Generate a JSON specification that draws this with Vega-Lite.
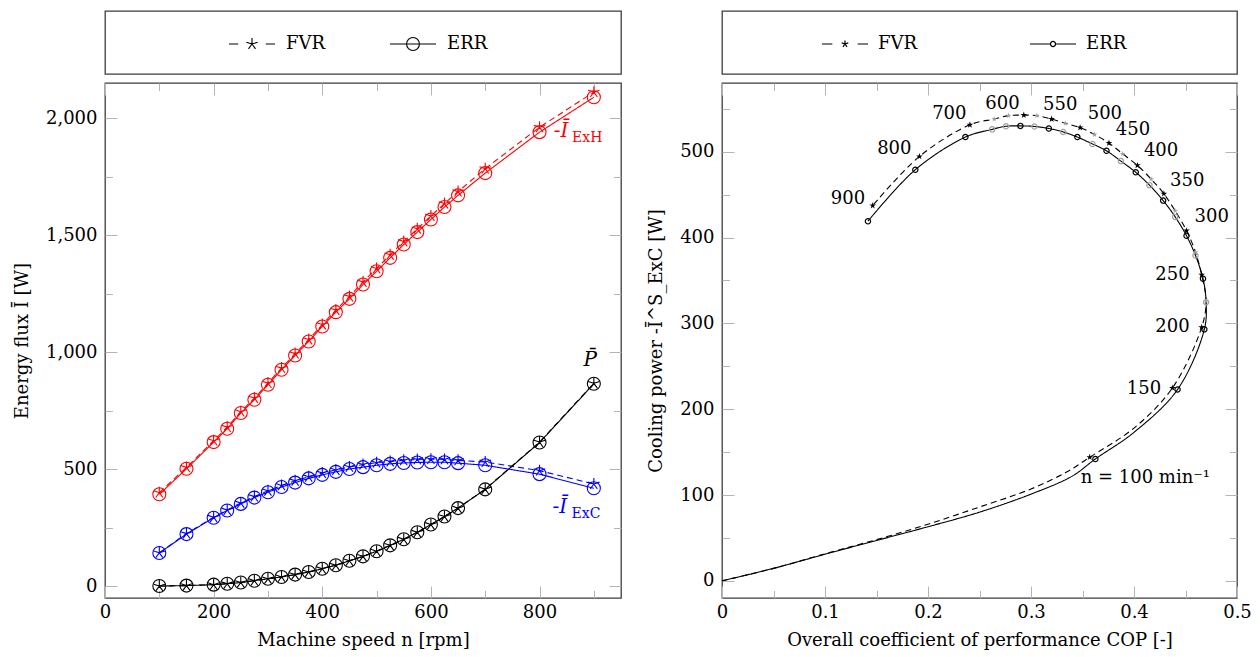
{
  "$schema": "https://vega.github.io/schema/vega-lite/v6.json",
  "background": "white",
  "padding": {"left": 12, "top": 10, "right": 5, "bottom": 5},
  "datasets": {
    "leg": [{"s": "FVR"}, {"s": "ERR"}],
    "left": [
      {"n":100,"q":"ExH","s":"ERR","v":393},{"n":150,"q":"ExH","s":"ERR","v":502},{"n":200,"q":"ExH","s":"ERR","v":616},{"n":225,"q":"ExH","s":"ERR","v":673},{"n":250,"q":"ExH","s":"ERR","v":740},{"n":275,"q":"ExH","s":"ERR","v":797},{"n":300,"q":"ExH","s":"ERR","v":861},{"n":325,"q":"ExH","s":"ERR","v":925},{"n":350,"q":"ExH","s":"ERR","v":986},{"n":375,"q":"ExH","s":"ERR","v":1046},{"n":400,"q":"ExH","s":"ERR","v":1110},{"n":425,"q":"ExH","s":"ERR","v":1171},{"n":450,"q":"ExH","s":"ERR","v":1228},{"n":475,"q":"ExH","s":"ERR","v":1289},{"n":500,"q":"ExH","s":"ERR","v":1346},{"n":525,"q":"ExH","s":"ERR","v":1403},{"n":550,"q":"ExH","s":"ERR","v":1460},{"n":575,"q":"ExH","s":"ERR","v":1513},{"n":600,"q":"ExH","s":"ERR","v":1567},{"n":625,"q":"ExH","s":"ERR","v":1620},{"n":650,"q":"ExH","s":"ERR","v":1670},{"n":700,"q":"ExH","s":"ERR","v":1765},{"n":800,"q":"ExH","s":"ERR","v":1940},{"n":900,"q":"ExH","s":"ERR","v":2089},
      {"n":100,"q":"ExH","s":"FVR","v":400},{"n":150,"q":"ExH","s":"FVR","v":508},{"n":200,"q":"ExH","s":"FVR","v":622},{"n":225,"q":"ExH","s":"FVR","v":680},{"n":250,"q":"ExH","s":"FVR","v":746},{"n":275,"q":"ExH","s":"FVR","v":804},{"n":300,"q":"ExH","s":"FVR","v":868},{"n":325,"q":"ExH","s":"FVR","v":932},{"n":350,"q":"ExH","s":"FVR","v":994},{"n":375,"q":"ExH","s":"FVR","v":1054},{"n":400,"q":"ExH","s":"FVR","v":1118},{"n":425,"q":"ExH","s":"FVR","v":1180},{"n":450,"q":"ExH","s":"FVR","v":1238},{"n":475,"q":"ExH","s":"FVR","v":1300},{"n":500,"q":"ExH","s":"FVR","v":1358},{"n":525,"q":"ExH","s":"FVR","v":1416},{"n":550,"q":"ExH","s":"FVR","v":1473},{"n":575,"q":"ExH","s":"FVR","v":1527},{"n":600,"q":"ExH","s":"FVR","v":1582},{"n":625,"q":"ExH","s":"FVR","v":1635},{"n":650,"q":"ExH","s":"FVR","v":1686},{"n":700,"q":"ExH","s":"FVR","v":1784},{"n":800,"q":"ExH","s":"FVR","v":1961},{"n":900,"q":"ExH","s":"FVR","v":2111},
      {"n":100,"q":"ExC","s":"ERR","v":142},{"n":150,"q":"ExC","s":"ERR","v":223},{"n":200,"q":"ExC","s":"ERR","v":293},{"n":225,"q":"ExC","s":"ERR","v":324},{"n":250,"q":"ExC","s":"ERR","v":352},{"n":275,"q":"ExC","s":"ERR","v":379},{"n":300,"q":"ExC","s":"ERR","v":402},{"n":325,"q":"ExC","s":"ERR","v":424},{"n":350,"q":"ExC","s":"ERR","v":443},{"n":375,"q":"ExC","s":"ERR","v":461},{"n":400,"q":"ExC","s":"ERR","v":476},{"n":425,"q":"ExC","s":"ERR","v":489},{"n":450,"q":"ExC","s":"ERR","v":501},{"n":475,"q":"ExC","s":"ERR","v":509},{"n":500,"q":"ExC","s":"ERR","v":517},{"n":525,"q":"ExC","s":"ERR","v":523},{"n":550,"q":"ExC","s":"ERR","v":527},{"n":575,"q":"ExC","s":"ERR","v":529},{"n":600,"q":"ExC","s":"ERR","v":530},{"n":625,"q":"ExC","s":"ERR","v":530},{"n":650,"q":"ExC","s":"ERR","v":526},{"n":700,"q":"ExC","s":"ERR","v":517},{"n":800,"q":"ExC","s":"ERR","v":479},{"n":900,"q":"ExC","s":"ERR","v":419},
      {"n":100,"q":"ExC","s":"FVR","v":143},{"n":150,"q":"ExC","s":"FVR","v":225},{"n":200,"q":"ExC","s":"FVR","v":295},{"n":225,"q":"ExC","s":"FVR","v":326},{"n":250,"q":"ExC","s":"FVR","v":356},{"n":275,"q":"ExC","s":"FVR","v":383},{"n":300,"q":"ExC","s":"FVR","v":408},{"n":325,"q":"ExC","s":"FVR","v":431},{"n":350,"q":"ExC","s":"FVR","v":451},{"n":375,"q":"ExC","s":"FVR","v":468},{"n":400,"q":"ExC","s":"FVR","v":484},{"n":425,"q":"ExC","s":"FVR","v":497},{"n":450,"q":"ExC","s":"FVR","v":510},{"n":475,"q":"ExC","s":"FVR","v":520},{"n":500,"q":"ExC","s":"FVR","v":528},{"n":525,"q":"ExC","s":"FVR","v":533},{"n":550,"q":"ExC","s":"FVR","v":538},{"n":575,"q":"ExC","s":"FVR","v":542},{"n":600,"q":"ExC","s":"FVR","v":543},{"n":625,"q":"ExC","s":"FVR","v":542},{"n":650,"q":"ExC","s":"FVR","v":538},{"n":700,"q":"ExC","s":"FVR","v":531},{"n":800,"q":"ExC","s":"FVR","v":494},{"n":900,"q":"ExC","s":"FVR","v":437},
      {"n":100,"q":"P","s":"ERR","v":1},{"n":150,"q":"P","s":"ERR","v":3},{"n":200,"q":"P","s":"ERR","v":7},{"n":225,"q":"P","s":"ERR","v":11},{"n":250,"q":"P","s":"ERR","v":16},{"n":275,"q":"P","s":"ERR","v":24},{"n":300,"q":"P","s":"ERR","v":32},{"n":325,"q":"P","s":"ERR","v":40},{"n":350,"q":"P","s":"ERR","v":50},{"n":375,"q":"P","s":"ERR","v":61},{"n":400,"q":"P","s":"ERR","v":75},{"n":425,"q":"P","s":"ERR","v":90},{"n":450,"q":"P","s":"ERR","v":109},{"n":475,"q":"P","s":"ERR","v":128},{"n":500,"q":"P","s":"ERR","v":150},{"n":525,"q":"P","s":"ERR","v":175},{"n":550,"q":"P","s":"ERR","v":201},{"n":575,"q":"P","s":"ERR","v":231},{"n":600,"q":"P","s":"ERR","v":264},{"n":625,"q":"P","s":"ERR","v":298},{"n":650,"q":"P","s":"ERR","v":334},{"n":700,"q":"P","s":"ERR","v":414},{"n":800,"q":"P","s":"ERR","v":614},{"n":900,"q":"P","s":"ERR","v":865},
      {"n":100,"q":"P","s":"FVR","v":1},{"n":150,"q":"P","s":"FVR","v":3},{"n":200,"q":"P","s":"FVR","v":7},{"n":225,"q":"P","s":"FVR","v":11},{"n":250,"q":"P","s":"FVR","v":16},{"n":275,"q":"P","s":"FVR","v":24},{"n":300,"q":"P","s":"FVR","v":32},{"n":325,"q":"P","s":"FVR","v":40},{"n":350,"q":"P","s":"FVR","v":50},{"n":375,"q":"P","s":"FVR","v":61},{"n":400,"q":"P","s":"FVR","v":75},{"n":425,"q":"P","s":"FVR","v":90},{"n":450,"q":"P","s":"FVR","v":109},{"n":475,"q":"P","s":"FVR","v":128},{"n":500,"q":"P","s":"FVR","v":150},{"n":525,"q":"P","s":"FVR","v":175},{"n":550,"q":"P","s":"FVR","v":201},{"n":575,"q":"P","s":"FVR","v":231},{"n":600,"q":"P","s":"FVR","v":264},{"n":625,"q":"P","s":"FVR","v":298},{"n":650,"q":"P","s":"FVR","v":334},{"n":700,"q":"P","s":"FVR","v":415},{"n":800,"q":"P","s":"FVR","v":616},{"n":900,"q":"P","s":"FVR","v":867}
    ],
    "leftAnn": [
      {"n":826,"v":1943,"t":"-Ī","q":"ExH","k":"main"},
      {"n":860,"v":1913,"t":"ExH","q":"ExH","k":"sub"},
      {"n":824,"v":338,"t":"-Ī","q":"ExC","k":"main"},
      {"n":859,"v":307,"t":"ExC","q":"ExC","k":"sub"},
      {"n":881,"v":965,"t":"P̄","q":"P","k":"main"}
    ],
    "right": [
      {"s":"ERR","o":1,"cop":0,"q":0,"m":"n"},{"s":"ERR","o":2,"cop":0.05,"q":14.5,"m":"n"},{"s":"ERR","o":3,"cop":0.1,"q":31,"m":"n"},{"s":"ERR","o":4,"cop":0.15,"q":47,"m":"n"},{"s":"ERR","o":5,"cop":0.2,"q":63,"m":"n"},{"s":"ERR","o":6,"cop":0.25,"q":80,"m":"n"},{"s":"ERR","o":7,"cop":0.3,"q":101,"m":"n"},{"s":"ERR","o":8,"cop":0.34,"q":122,"m":"n"},
      {"s":"ERR","o":9,"cop":0.3625,"q":142,"m":"k"},{"s":"ERR","o":9.5,"cop":0.4,"q":173,"m":"n"},{"s":"ERR","o":10,"cop":0.4423,"q":223,"m":"k"},{"s":"ERR","o":11,"cop":0.4683,"q":293,"m":"k"},{"s":"ERR","o":12,"cop":0.47,"q":324.5,"m":"g"},{"s":"ERR","o":13,"cop":0.467,"q":352,"m":"k"},{"s":"ERR","o":14,"cop":0.4597,"q":379,"m":"g"},{"s":"ERR","o":15,"cop":0.451,"q":402,"m":"k"},{"s":"ERR","o":16,"cop":0.44,"q":424,"m":"g"},{"s":"ERR","o":17,"cop":0.4283,"q":443,"m":"k"},{"s":"ERR","o":18,"cop":0.415,"q":461,"m":"g"},{"s":"ERR","o":19,"cop":0.4017,"q":476,"m":"k"},{"s":"ERR","o":20,"cop":0.3873,"q":489,"m":"g"},{"s":"ERR","o":21,"cop":0.3733,"q":501,"m":"k"},{"s":"ERR","o":22,"cop":0.3597,"q":509,"m":"g"},{"s":"ERR","o":23,"cop":0.345,"q":517,"m":"k"},{"s":"ERR","o":24,"cop":0.3313,"q":523,"m":"g"},{"s":"ERR","o":25,"cop":0.3173,"q":527,"m":"k"},{"s":"ERR","o":26,"cop":0.3033,"q":529.4,"m":"g"},{"s":"ERR","o":27,"cop":0.2897,"q":530,"m":"k"},{"s":"ERR","o":28,"cop":0.2757,"q":529.6,"m":"g"},{"s":"ERR","o":29,"cop":0.2623,"q":526,"m":"g"},{"s":"ERR","o":30,"cop":0.2363,"q":517,"m":"k"},{"s":"ERR","o":31,"cop":0.1877,"q":479,"m":"k"},{"s":"ERR","o":32,"cop":0.1417,"q":419,"m":"k"},
      {"s":"FVR","o":1,"cop":0,"q":0,"m":"n"},{"s":"FVR","o":2,"cop":0.05,"q":14.5,"m":"n"},{"s":"FVR","o":3,"cop":0.1,"q":31.5,"m":"n"},{"s":"FVR","o":4,"cop":0.15,"q":48,"m":"n"},{"s":"FVR","o":5,"cop":0.2,"q":66,"m":"n"},{"s":"FVR","o":6,"cop":0.25,"q":86,"m":"n"},{"s":"FVR","o":7,"cop":0.3,"q":107,"m":"n"},{"s":"FVR","o":8,"cop":0.335,"q":127,"m":"n"},
      {"s":"FVR","o":9,"cop":0.357,"q":144,"m":"k"},{"s":"FVR","o":9.5,"cop":0.4,"q":178,"m":"n"},{"s":"FVR","o":10,"cop":0.4373,"q":224.7,"m":"k"},{"s":"FVR","o":11,"cop":0.4657,"q":295.3,"m":"k"},{"s":"FVR","o":12,"cop":0.47,"q":326,"m":"g"},{"s":"FVR","o":13,"cop":0.4657,"q":356.4,"m":"k"},{"s":"FVR","o":14,"cop":0.4597,"q":383,"m":"g"},{"s":"FVR","o":15,"cop":0.451,"q":408,"m":"k"},{"s":"FVR","o":16,"cop":0.44,"q":431,"m":"g"},{"s":"FVR","o":17,"cop":0.429,"q":451,"m":"k"},{"s":"FVR","o":18,"cop":0.4167,"q":468,"m":"g"},{"s":"FVR","o":19,"cop":0.4033,"q":484,"m":"k"},{"s":"FVR","o":20,"cop":0.389,"q":497.5,"m":"g"},{"s":"FVR","o":21,"cop":0.3757,"q":510,"m":"k"},{"s":"FVR","o":22,"cop":0.3617,"q":520,"m":"g"},{"s":"FVR","o":23,"cop":0.3477,"q":528,"m":"k"},{"s":"FVR","o":24,"cop":0.3333,"q":533,"m":"g"},{"s":"FVR","o":25,"cop":0.32,"q":538,"m":"k"},{"s":"FVR","o":26,"cop":0.3057,"q":542,"m":"g"},{"s":"FVR","o":27,"cop":0.293,"q":542.6,"m":"k"},{"s":"FVR","o":28,"cop":0.2783,"q":542,"m":"g"},{"s":"FVR","o":29,"cop":0.2643,"q":538,"m":"g"},{"s":"FVR","o":30,"cop":0.2407,"q":531.3,"m":"k"},{"s":"FVR","o":31,"cop":0.1917,"q":494.4,"m":"k"},{"s":"FVR","o":32,"cop":0.1463,"q":437.2,"m":"k"}
    ],
    "rightAnn": [
      {"cop":0.1223,"q":445,"t":"900"},{"cop":0.1673,"q":503,"t":"800"},{"cop":0.2207,"q":544,"t":"700"},{"cop":0.2723,"q":555,"t":"600"},{"cop":0.3283,"q":554,"t":"550"},{"cop":0.3717,"q":544,"t":"500"},{"cop":0.399,"q":525.5,"t":"450"},{"cop":0.4263,"q":500.6,"t":"400"},{"cop":0.4517,"q":466,"t":"350"},{"cop":0.4755,"q":423.6,"t":"300"},{"cop":0.4373,"q":356.4,"t":"250"},{"cop":0.4373,"q":295.3,"t":"200"},{"cop":0.4097,"q":223.6,"t":"150"},{"cop":0.411,"q":120,"t":"n = 100 min⁻¹"}
    ]
  },
  "spacing": 23,
  "resolve": {"scale": {"shape": "independent", "color": "independent", "strokeDash": "independent", "size": "independent", "x": "independent", "y": "independent"}, "legend": {"shape": "independent"}},
  "hconcat": [
    {
      "spacing": 6,
      "resolve": {"scale": {"shape": "independent", "color": "independent", "strokeDash": "independent", "size": "independent", "x": "independent", "y": "independent"}, "legend": {"shape": "independent"}},
      "vconcat": [
        {
          "width": 516, "height": 63,
          "data": {"name": "leg"},
          "mark": {"type": "point", "opacity": 0, "color": "black", "filled": false},
          "encoding": {
            "x": {"field": "s", "type": "nominal", "axis": null},
            "y": {"field": "s", "type": "nominal", "axis": null},
            "shape": {"field": "s", "type": "nominal",
              "scale": {"domain": ["FVR", "ERR"], "range": ["M-1,0H-0.6M0.6,0H1M0,0L0,-0.26M0,0L0.247,-0.08M0,0L0.153,0.21M0,0L-0.153,0.21M0,0L-0.247,-0.08", "M-1,0H1M0.28,0A0.28,0.28,0,1,1,-0.28,0A0.28,0.28,0,1,1,0.28,0"]},
              "legend": {"orient": "none", "legendX": 123, "legendY": 9, "direction": "horizontal", "title": null, "symbolSize": 2116, "symbolStrokeWidth": 1.1, "symbolStrokeColor": "black", "symbolFillColor": "transparent", "symbolOpacity": 1, "labelFont": "DejaVu Serif", "labelFontSize": 18, "labelColor": "black", "labelOffset": 10, "columnPadding": 61}}
          }
        },
        {
          "width": 516, "height": 515,
          "resolve": {"axis": {"x": "independent", "y": "independent"}},
          "layer": [
            {
              "data": {"name": "left"},
              "mark": {"type": "line", "strokeWidth": 1.1},
              "encoding": {
                "x": {"field": "n", "type": "quantitative", "scale": {"domain": [0, 950], "nice": false, "zero": false},
                  "axis": {"orient": "bottom", "values": [0, 200, 400, 600, 800], "tickSize": -12, "labelPadding": 17, "title": "Machine speed n [rpm]", "titlePadding": 10}},
                "y": {"field": "v", "type": "quantitative", "scale": {"domain": [-50, 2150], "nice": false, "zero": false},
                  "axis": {"orient": "left", "values": [0, 500, 1000, 1500, 2000], "format": ",.0f", "tickSize": -12, "labelPadding": 20, "title": "Energy flux Ī [W]", "titlePadding": 14}},
                "color": {"field": "q", "type": "nominal", "scale": {"domain": ["ExH", "ExC", "P"], "range": ["#ff0000", "#0000ff", "#000000"]}, "legend": null},
                "strokeDash": {"field": "s", "type": "nominal", "scale": {"domain": ["FVR", "ERR"], "range": [[6, 4], [1, 0]]}, "legend": null}
              }
            },
            {
              "data": {"name": "left"},
              "transform": [{"filter": "datum.s === 'ERR'"}],
              "mark": {"type": "point", "shape": "circle", "size": 169, "filled": false, "strokeWidth": 1.1, "opacity": 1},
              "encoding": {
                "x": {"field": "n", "type": "quantitative", "axis": {"orient": "bottom", "values": [100, 300, 500, 700, 900], "tickSize": -7.5, "labels": false, "title": null}},
                "y": {"field": "v", "type": "quantitative", "axis": {"orient": "left", "values": [250, 750, 1250, 1750], "tickSize": -7.5, "labels": false, "title": null}},
                "color": {"field": "q", "type": "nominal", "legend": null}
              }
            },
            {
              "data": {"name": "left"},
              "transform": [{"filter": "datum.s === 'FVR'"}],
              "mark": {"type": "point", "shape": "M0,0L0,-1M0,0L0.951,-0.309M0,0L0.588,0.809M0,0L-0.588,0.809M0,0L-0.951,-0.309", "size": 144, "filled": false, "strokeWidth": 1.1, "opacity": 1},
              "encoding": {
                "x": {"field": "n", "type": "quantitative", "axis": {"orient": "top", "values": [0, 200, 400, 600, 800], "tickSize": -12, "labels": false, "title": null}},
                "y": {"field": "v", "type": "quantitative", "axis": {"orient": "right", "values": [0, 500, 1000, 1500, 2000], "tickSize": -12, "labels": false, "title": null}},
                "color": {"field": "q", "type": "nominal", "legend": null}
              }
            },
            {
              "data": {"name": "leftAnn"},
              "transform": [{"filter": "datum.k === 'main'"}],
              "mark": {"type": "text", "align": "left", "baseline": "middle", "fontSize": 20, "fontStyle": "italic", "font": "DejaVu Serif"},
              "encoding": {
                "x": {"field": "n", "type": "quantitative", "axis": {"orient": "top", "values": [100, 300, 500, 700, 900], "tickSize": -7.5, "labels": false, "title": null}},
                "y": {"field": "v", "type": "quantitative", "axis": {"orient": "right", "values": [250, 750, 1250, 1750], "tickSize": -7.5, "labels": false, "title": null}},
                "text": {"field": "t"},
                "color": {"field": "q", "type": "nominal", "legend": null}
              }
            },
            {
              "data": {"name": "leftAnn"},
              "transform": [{"filter": "datum.k === 'sub'"}],
              "mark": {"type": "text", "align": "left", "baseline": "middle", "fontSize": 14, "font": "DejaVu Serif"},
              "encoding": {
                "x": {"field": "n", "type": "quantitative", "axis": null},
                "y": {"field": "v", "type": "quantitative", "axis": null},
                "text": {"field": "t"},
                "color": {"field": "q", "type": "nominal", "legend": null}
              }
            }
          ]
        }
      ]
    },
    {
      "spacing": 6,
      "resolve": {"scale": {"shape": "independent", "color": "independent", "strokeDash": "independent", "size": "independent", "x": "independent", "y": "independent"}, "legend": {"shape": "independent"}},
      "vconcat": [
        {
          "width": 515, "height": 63,
          "data": {"name": "leg"},
          "mark": {"type": "point", "opacity": 0, "color": "black", "filled": false},
          "encoding": {
            "x": {"field": "s", "type": "nominal", "axis": null},
            "y": {"field": "s", "type": "nominal", "axis": null},
            "shape": {"field": "s", "type": "nominal",
              "scale": {"domain": ["FVR", "ERR"], "range": ["M-1,0H-0.55M0.55,0H1M0,0L0,-0.15M0,0L0.143,-0.046M0,0L0.088,0.121M0,0L-0.088,0.121M0,0L-0.143,-0.046", "M-1,0H-0.11M0.11,0H1M0.11,0A0.11,0.11,0,1,1,-0.11,0A0.11,0.11,0,1,1,0.11,0"]},
              "legend": {"orient": "none", "legendX": 99, "legendY": 9, "direction": "horizontal", "title": null, "symbolSize": 2116, "symbolStrokeWidth": 1.2, "symbolStrokeColor": "black", "symbolFillColor": "transparent", "symbolOpacity": 1, "labelFont": "DejaVu Serif", "labelFontSize": 18, "labelColor": "black", "labelOffset": 9, "columnPadding": 109}}
          }
        },
        {
          "width": 515, "height": 515,
          "resolve": {"axis": {"x": "independent", "y": "independent"}},
          "layer": [
            {
              "data": {"name": "right"},
              "mark": {"type": "line", "strokeWidth": 1.1, "interpolate": "catmull-rom", "color": "black"},
              "encoding": {
                "x": {"field": "cop", "type": "quantitative", "scale": {"domain": [0, 0.5], "nice": false, "zero": false},
                  "axis": {"orient": "bottom", "values": [0, 0.1, 0.2, 0.3, 0.4, 0.5], "format": ".1~f", "tickSize": -12, "labelPadding": 17, "title": "Overall coefficient of performance COP [-]", "titlePadding": 10}},
                "y": {"field": "q", "type": "quantitative", "scale": {"domain": [-20, 580], "nice": false, "zero": false},
                  "axis": {"orient": "left", "values": [0, 100, 200, 300, 400, 500], "tickSize": -12, "labelPadding": 20, "title": "Cooling power -Ī^S_ExC [W]", "titlePadding": 14}},
                "order": {"field": "o", "type": "quantitative"},
                "strokeDash": {"field": "s", "type": "nominal", "scale": {"domain": ["FVR", "ERR"], "range": [[6, 4], [1, 0]]}, "legend": null}
              }
            },
            {
              "data": {"name": "right"},
              "transform": [{"filter": "datum.s === 'ERR' && datum.m === 'k'"}],
              "mark": {"type": "point", "shape": "circle", "size": 28, "filled": false, "strokeWidth": 1.2, "color": "black", "opacity": 1},
              "encoding": {
                "x": {"field": "cop", "type": "quantitative", "axis": {"orient": "bottom", "values": [0.05, 0.15, 0.25, 0.35, 0.45], "tickSize": -7.5, "labels": false, "title": null}},
                "y": {"field": "q", "type": "quantitative", "axis": {"orient": "left", "values": [50, 150, 250, 350, 450, 550], "tickSize": -7.5, "labels": false, "title": null}}
              }
            },
            {
              "data": {"name": "right"},
              "transform": [{"filter": "datum.s === 'FVR' && datum.m === 'k'"}],
              "mark": {"type": "point", "shape": "M0,-1L0.223,-0.307L0.951,-0.309L0.361,0.117L0.588,0.809L0,0.38L-0.588,0.809L-0.361,0.117L-0.951,-0.309L-0.223,-0.307Z", "size": 49, "filled": true, "color": "black", "opacity": 1},
              "encoding": {
                "x": {"field": "cop", "type": "quantitative", "axis": {"orient": "top", "values": [0, 0.1, 0.2, 0.3, 0.4, 0.5], "tickSize": -12, "labels": false, "title": null}},
                "y": {"field": "q", "type": "quantitative", "axis": {"orient": "right", "values": [0, 100, 200, 300, 400, 500], "tickSize": -12, "labels": false, "title": null}}
              }
            },
            {
              "data": {"name": "right"},
              "transform": [{"filter": "datum.s === 'ERR' && datum.m === 'g'"}],
              "mark": {"type": "point", "shape": "circle", "size": 28, "filled": false, "strokeWidth": 1.2, "color": "#a0a0a0", "opacity": 1},
              "encoding": {
                "x": {"field": "cop", "type": "quantitative", "axis": {"orient": "top", "values": [0.05, 0.15, 0.25, 0.35, 0.45], "tickSize": -7.5, "labels": false, "title": null}},
                "y": {"field": "q", "type": "quantitative", "axis": {"orient": "right", "values": [50, 150, 250, 350, 450, 550], "tickSize": -7.5, "labels": false, "title": null}}
              }
            },
            {
              "data": {"name": "right"},
              "transform": [{"filter": "datum.s === 'FVR' && datum.m === 'g'"}],
              "mark": {"type": "point", "shape": "M0,-1L0.223,-0.307L0.951,-0.309L0.361,0.117L0.588,0.809L0,0.38L-0.588,0.809L-0.361,0.117L-0.951,-0.309L-0.223,-0.307Z", "size": 36, "filled": true, "color": "#a0a0a0", "opacity": 1},
              "encoding": {
                "x": {"field": "cop", "type": "quantitative", "axis": null},
                "y": {"field": "q", "type": "quantitative", "axis": null}
              }
            },
            {
              "data": {"name": "rightAnn"},
              "mark": {"type": "text", "align": "center", "baseline": "middle", "fontSize": 18, "font": "DejaVu Serif", "color": "black"},
              "encoding": {
                "x": {"field": "cop", "type": "quantitative", "axis": null},
                "y": {"field": "q", "type": "quantitative", "axis": null},
                "text": {"field": "t"}
              }
            }
          ]
        }
      ]
    }
  ],
  "config": {
    "font": "DejaVu Serif",
    "view": {"stroke": "#3c3c3c", "strokeWidth": 1.3},
    "axis": {"domain": false, "grid": false, "tickColor": "#b4b4b4", "tickWidth": 1, "labelFont": "DejaVu Serif", "labelFontSize": 18, "labelColor": "#000000", "titleFont": "DejaVu Serif", "titleFontSize": 18, "titleFontWeight": "normal", "titleColor": "#000000", "labelFlush": false, "labelOverlap": false}
  }
}
